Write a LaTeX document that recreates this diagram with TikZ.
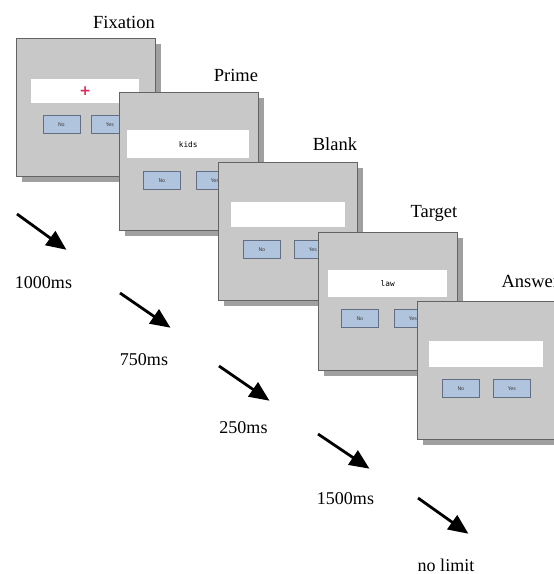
\documentclass[tikz,border=0pt]{standalone}
\usepackage{fontspec}
\setmainfont{Liberation Serif}
\newfontfamily\monofont{DejaVu Sans Mono}
\newfontfamily\btnfont{DejaVu Sans}
\usetikzlibrary{arrows.meta,shadows}
\definecolor{panelgray}{RGB}{200,200,200}
\definecolor{shadowgray}{RGB}{160,160,160}
\definecolor{bordergray}{RGB}{100,100,100}
\definecolor{btnblue}{RGB}{176,196,222}
\definecolor{btnborder}{RGB}{100,110,130}
\definecolor{pluscol}{RGB}{220,40,90}
\tikzset{
  panel/.style={draw=bordergray, line width=0.8pt, fill=panelgray, minimum width=139pt, minimum height=138pt, inner sep=0pt, anchor=north west,
    drop shadow={shadow xshift=6pt, shadow yshift=-6pt, fill=shadowgray, opacity=1}},
  field/.style={fill=white, draw=none, inner sep=0pt, anchor=north west},
  btn/.style={draw=btnborder, line width=0.8pt, fill=btnblue, minimum width=37pt, minimum height=18pt, inner sep=0pt, anchor=north west, font=\btnfont\fontsize{5}{5}\selectfont, text=black!75},
  title/.style={font=\fontsize{18.5}{20}\selectfont, anchor=base},
  timing/.style={font=\fontsize{18}{20}\selectfont, anchor=base},
  step arrow/.style={line width=2.8pt, -{Triangle[length=20pt,width=17pt]}, shorten >=-3pt}
}
\begin{document}
\begin{tikzpicture}[x=1pt,y=-1pt]
\path[use as bounding box, fill=white] (0,0) rectangle (554,574);
\clip (0,0) rectangle (554,574);

% Panel 1 Fixation
\node[title] (t1) at (124,28) {Fixation};
\begin{scope}[shift={(15.5,38)}]
\node[panel] (p1) at (0,0) {};
\node[field, minimum width=108pt, minimum height=24pt] (f1) at (15.5,41) {};
\node[font=\btnfont\fontsize{14}{14}\selectfont\bfseries, text=pluscol] (c1) at (f1.center) {+};
\node[btn] (n1) at (27,77) {No};
\node[btn] (y1) at (75.5,77) {Yes};
\end{scope}

% Panel 2 Prime
\node[title] (t2) at (236,81.7) {Prime};
\begin{scope}[shift={(119,92)}]
\node[panel] (p2) at (0,0) {};
\node[field, minimum width=122pt, minimum height=28pt] (f2) at (8,38) {};
\node[font=\monofont\fontsize{7.8}{8}\selectfont] (c2) at (f2.center) {kids};
\node[btn] (n2) at (24,79) {No};
\node[btn] (y2) at (77,79) {Yes};
\end{scope}

% Panel 3 Blank
\node[title] (t3) at (335,150) {Blank};
\begin{scope}[shift={(218,162)}]
\node[panel] (p3) at (0,0) {};
\node[field, minimum width=114pt, minimum height=25pt] (f3) at (13,40) {};
\node[btn] (n3) at (25,78) {No};
\node[btn] (y3) at (76,78) {Yes};
\end{scope}

% Panel 4 Target
\node[title] (t4) at (434,217) {Target};
\begin{scope}[shift={(318,232)}]
\node[panel] (p4) at (0,0) {};
\node[field, minimum width=119pt, minimum height=27pt] (f4) at (10,38) {};
\node[font=\monofont\fontsize{7.8}{8}\selectfont] (c4) at (f4.center) {law};
\node[btn] (n4) at (23,77) {No};
\node[btn] (y4) at (76,77) {Yes};
\end{scope}

% Panel 5 Answer
\node[title, anchor=base west] (t5) at (498,287) {Answer};
\begin{scope}[shift={(417,301)}]
\node[panel] (p5) at (0,0) {};
\node[field, minimum width=114pt, minimum height=26pt] (f5) at (12,40) {};
\node[btn] (n5) at (25,78) {No};
\node[btn] (y5) at (76,78) {Yes};
\end{scope}

% arrows
\coordinate (a1s) at (17,214); \coordinate (a1e) at (64,248);
\coordinate (a2s) at (120,293); \coordinate (a2e) at (168,326);
\coordinate (a3s) at (219,366); \coordinate (a3e) at (267,399);
\coordinate (a4s) at (318,434); \coordinate (a4e) at (367,467);
\coordinate (a5s) at (418,498); \coordinate (a5e) at (466,532);
\foreach \i in {1,...,5} { \draw[step arrow] (a\i s) -- (a\i e); }

% timings
\node[timing] (d1) at (43.5,288) {1000ms};
\node[timing] (d2) at (144,365) {750ms};
\node[timing] (d3) at (243.5,433) {250ms};
\node[timing] (d4) at (345.5,504) {1500ms};
\node[timing] (d5) at (446,571) {no limit};
\end{tikzpicture}
\end{document}
